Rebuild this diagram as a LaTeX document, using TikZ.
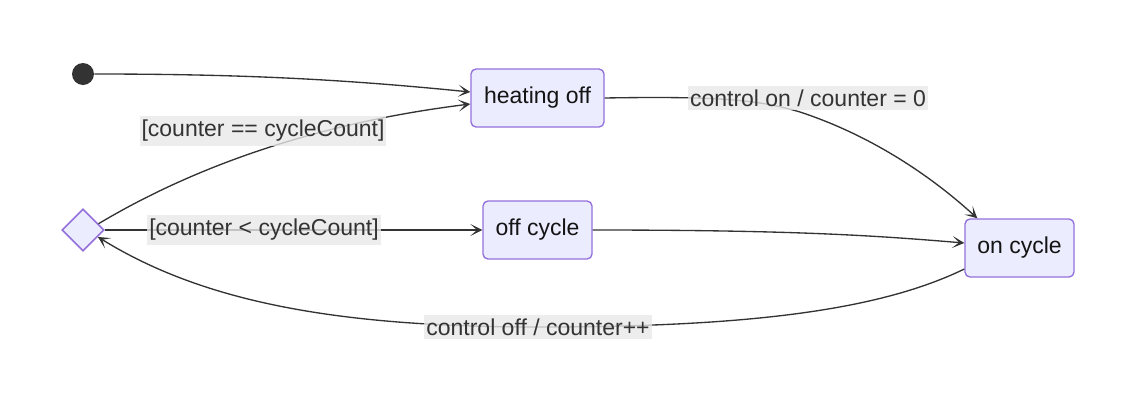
\documentclass[tikz,border=0pt]{standalone}
\usepackage{fontspec}
\setmainfont{Liberation Sans}
\usetikzlibrary{arrows.meta,shapes.geometric,calc}
\definecolor{nodefill}{HTML}{ECECFF}
\definecolor{nodeline}{HTML}{9370DB}
\definecolor{edgecol}{HTML}{333333}
\definecolor{lblbg}{HTML}{E8E8E8}
\begin{document}
\begin{tikzpicture}[x=0.75pt,y=-0.75pt,
  state/.style={draw=nodeline, fill=nodefill, line width=1pt, rounded corners=3.75pt,
    minimum height=43.5pt, inner sep=0pt, font=\fontsize{17.25}{20}\selectfont, text=black!92},
  lbl/.style={fill=lblbg, fill opacity=0.8, text opacity=1, text=edgecol, inner xsep=1.5pt,
    inner ysep=3pt, font=\fontsize{17.25}{20}\selectfont},
  tr/.style={draw=edgecol, line width=1pt, -{Stealth[length=9pt,width=9pt,inset=5pt]}}
]
\useasboundingbox (0,0) rectangle (1143,408);

\node[circle, fill=edgecol, minimum size=16.5pt, inner sep=0pt] (start) at (83,74) {};
\node[state, minimum width=99.75pt] (heat) at (537.5,98) {heating off};
\node[state, minimum width=81.75pt] (off) at (537.5,230) {off cycle};
\node[state, minimum width=81.75pt] (on) at (1019.5,248) {on cycle};
\node[diamond, draw=nodeline, fill=nodefill, line width=1.2pt, minimum width=31.5pt,
  minimum height=31.5pt, inner sep=0pt, aspect=1] (ch) at (83,230) {};

\draw[tr] (start.east) .. controls (250,74) and (350,80) .. ($(heat.west)+(0,-6)$);
\draw[tr] (ch.22) .. controls (180,175) and (300,125) .. ($(heat.west)+(0,6)$);
\draw[tr] (ch.east) -- (off.west);
\draw[tr] (heat.east) .. controls (720,96) and (760,100) .. (800,112)
  .. controls (870,135) and (930,175) .. ($(on.north west)+(13,0)$);
\draw[tr] (off.east) .. controls (800,230) and (880,236) .. ($(on.west)+(0,-5)$);
\draw[tr] ($(on.west)+(0,21)$) .. controls (880,310) and (750,327) .. (538,327)
  .. controls (330,327) and (200,300) .. (ch.-25);

\node[lbl] (l1) at (263,131) {[counter == cycleCount]};
\node[lbl] (l2) at (264,230) {[counter < cycleCount]};
\node[lbl] (l3) at (808,98) {control on / counter = 0};
\node[lbl] (l4) at (538,327) {control off / counter++};
\end{tikzpicture}
\end{document}
